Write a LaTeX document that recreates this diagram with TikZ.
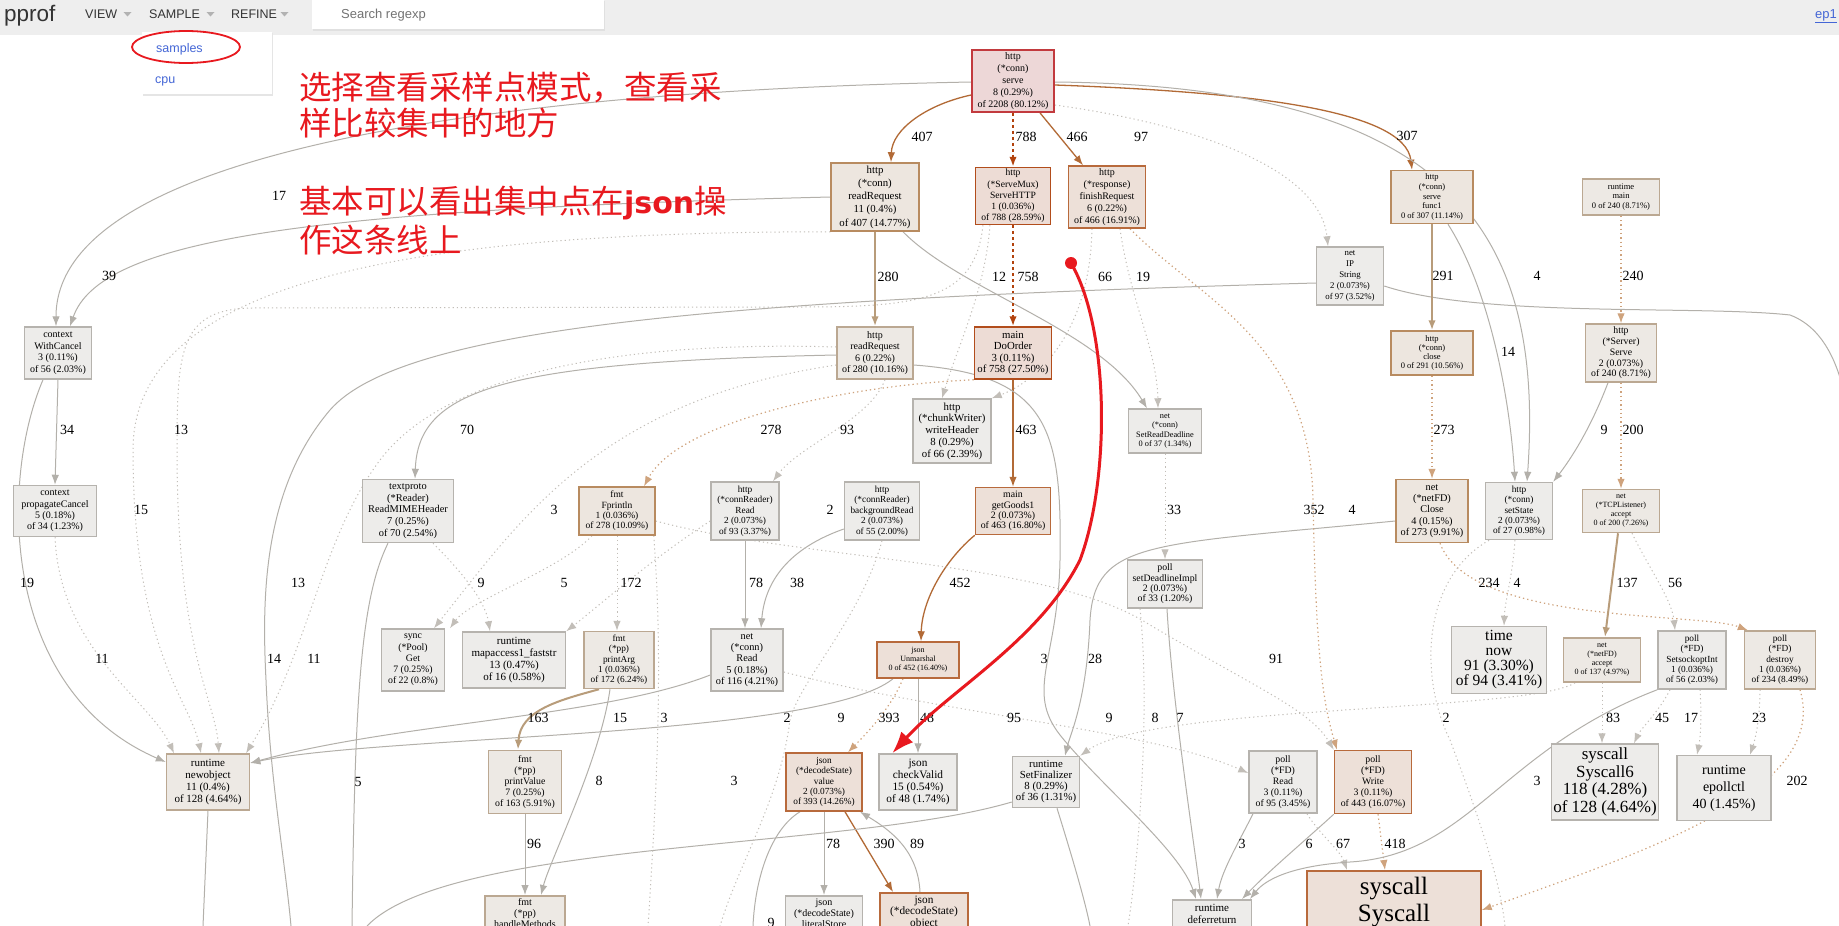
\documentclass[tikz,border=0pt]{standalone}
\usepackage{fontspec}
\setmainfont{Liberation Serif}
\newfontfamily\cjk{Noto Sans CJK SC}
\newfontfamily\uifont{Liberation Sans}
\newfontfamily\jsonfont{DejaVu Sans}
\usetikzlibrary{arrows.meta}
\pgfdeclarelayer{back}
\pgfdeclarelayer{edges}
\pgfsetlayers{back,edges,main}
\newcommand\fz[2]{\fontsize{#1}{#2}\selectfont}
\definecolor{nRedF}{HTML}{EDD7D7}\definecolor{nRedD}{HTML}{C23A3E}
\definecolor{nHotF}{HTML}{EDDCD5}\definecolor{nHotD}{HTML}{B24D1C}
\definecolor{nOrF}{HTML}{EDE0D8}\definecolor{nOrD}{HTML}{B86A3C}
\definecolor{nWaF}{HTML}{EDE6DF}\definecolor{nWaD}{HTML}{B88B60}
\definecolor{nTaF}{HTML}{EDE9E4}\definecolor{nTaD}{HTML}{BBA892}
\definecolor{nGrF}{HTML}{EDECEA}\definecolor{nGrD}{HTML}{B6B3AE}
\definecolor{eBr}{HTML}{B26A36}\definecolor{eHot}{HTML}{B2420D}
\definecolor{eTan}{HTML}{B89C7A}\definecolor{eGr}{HTML}{B3B0AA}
\definecolor{eGd}{HTML}{C2BEB8}\definecolor{eTd}{HTML}{CFA37D}
\definecolor{redA}{HTML}{E8191F}\definecolor{barF}{HTML}{EEEEEE}
\definecolor{uiT}{HTML}{333333}\definecolor{uiB}{HTML}{4466D6}
\tikzset{
 nd/.style={draw, rectangle, align=center, inner sep=0pt, line width=1.5pt},
 nred/.style={nd, fill=nRedF, draw=nRedD, line width=1.8pt},
 nhot/.style={nd, fill=nHotF, draw=nHotD},
 nor/.style={nd, fill=nOrF, draw=nOrD},
 nwa/.style={nd, fill=nWaF, draw=nWaD},
 nta/.style={nd, fill=nTaF, draw=nTaD},
 ngr/.style={nd, fill=nGrF, draw=nGrD},
 sz/.style 2 args={minimum width=#1, minimum height=#2},
 eb/.style={draw=eBr, line width=1.3pt},
 eh/.style={draw=eHot, line width=2.6pt, dash pattern=on 2.6pt off 3.4pt},
 et/.style={draw=eTan, line width=2pt},
 eg/.style={draw=eGr, line width=1pt},
 egd/.style={draw=eGd, line width=1pt, dash pattern=on 1.2pt off 3pt},
 etd/.style={draw=eTd, line width=1.2pt, dash pattern=on 1.3pt off 3pt},
 lbl/.style={font=\fz{14}{14}, inner sep=0pt},
 ui/.style={font=\uifont\fz{12.5}{14}, text=uiT, inner sep=0pt, anchor=base west},
 redtxt/.style={font=\cjk\fz{32.5}{36}, text=redA, inner sep=0pt, anchor=west},
}
\begin{document}
\begin{tikzpicture}[x=1pt,y=-1pt,>={Latex[length=10pt,width=7.5pt]}]
\useasboundingbox (0,0) rectangle (1839,926);
\begin{pgfonlayer}{back}
\fill[white] (0,0) rectangle (1839,926);
\end{pgfonlayer}

% ---------- nodes ----------
\node[nred, sz={82}{62}, font=\fz{10}{12.2}] (serve) at (1013,81) {http\\(*conn)\\serve\\8 (0.29\%)\\of 2208 (80.12\%)};
\node[nwa, sz={88}{68}, font=\fz{10.8}{13.2}] (rrc) at (875,197) {http\\(*conn)\\readRequest\\11 (0.4\%)\\of 407 (14.77\%)};
\node[nhot, sz={75}{57}, font=\fz{9.6}{11.2}] (shttp) at (1013,196) {http\\(*ServeMux)\\ServeHTTP\\1 (0.036\%)\\of 788 (28.59\%)};
\node[nor, sz={77}{62}, font=\fz{10}{12}] (fin) at (1107,197) {http\\(*response)\\finishRequest\\6 (0.22\%)\\of 466 (16.91\%)};
\node[nwa, sz={82}{53}, font=\fz{8.5}{9.8}] (func1) at (1432,197) {http\\(*conn)\\serve\\func1\\0 of 307 (11.14\%)};
\node[nta, sz={77}{36}, font=\fz{8.5}{9.8}] (rmain) at (1621,197) {runtime\\main\\0 of 240 (8.71\%)};
\node[ngr, sz={67}{58}, font=\fz{8.8}{10.8}] (ip) at (1350,276) {net\\IP\\String\\2 (0.073\%)\\of 97 (3.52\%)};
\node[ngr, sz={67}{52}, font=\fz{10}{11.5}] (wc) at (58,353) {context\\WithCancel\\3 (0.11\%)\\of 56 (2.03\%)};
\node[nta, sz={76}{52}, font=\fz{10}{11.5}] (rrh) at (875,353) {http\\readRequest\\6 (0.22\%)\\of 280 (10.16\%)};
\node[nhot, sz={77}{52}, font=\fz{10.8}{11.5}] (doorder) at (1013,353) {main\\DoOrder\\3 (0.11\%)\\of 758 (27.50\%)};
\node[nwa, sz={82}{44}, font=\fz{8.5}{9.2}] (close) at (1432,353) {http\\(*conn)\\close\\0 of 291 (10.56\%)};
\node[nta, sz={71}{58}, font=\fz{9.8}{10.8}] (serveS) at (1621,353) {http\\(*Server)\\Serve\\2 (0.073\%)\\of 240 (8.71\%)};
\node[ngr, sz={78}{64}, font=\fz{10.8}{11.8}] (cw) at (952,431) {http\\(*chunkWriter)\\writeHeader\\8 (0.29\%)\\of 66 (2.39\%)};
\node[ngr, sz={73}{44}, font=\fz{8.3}{9.3}] (srd) at (1165,431) {net\\(*conn)\\SetReadDeadline\\0 of 37 (1.34\%)};
\node[ngr, sz={83}{51}, font=\fz{10}{11.2}] (pc) at (55,511) {context\\propagateCancel\\5 (0.18\%)\\of 34 (1.23\%)};
\node[ngr, sz={91}{63}, font=\fz{10.4}{11.6}] (tp) at (408,511) {textproto\\(*Reader)\\ReadMIMEHeader\\7 (0.25\%)\\of 70 (2.54\%)};
\node[nwa, sz={76}{48}, font=\fz{9.5}{10.3}] (fpl) at (617,511) {fmt\\Fprintln\\1 (0.036\%)\\of 278 (10.09\%)};
\node[ngr, sz={68}{58}, font=\fz{9.3}{10.5}] (crr) at (745,511) {http\\(*connReader)\\Read\\2 (0.073\%)\\of 93 (3.37\%)};
\node[ngr, sz={75}{58}, font=\fz{9.3}{10.5}] (bgr) at (882,511) {http\\(*connReader)\\backgroundRead\\2 (0.073\%)\\of 55 (2.00\%)};
\node[nor, sz={75}{47}, font=\fz{9.8}{10.3}] (gg) at (1013,511) {main\\getGoods1\\2 (0.073\%)\\of 463 (16.80\%)};
\node[nwa, sz={72}{63}, font=\fz{10.3}{11.3}] (nfc) at (1432,511) {net\\(*netFD)\\Close\\4 (0.15\%)\\of 273 (9.91\%)};
\node[ngr, sz={67}{57}, font=\fz{9.3}{10.3}] (ss) at (1519,511) {http\\(*conn)\\setState\\2 (0.073\%)\\of 27 (0.98\%)};
\node[nta, sz={77}{43}, font=\fz{8}{9}] (tcpl) at (1621,511) {net\\(*TCPListener)\\accept\\0 of 200 (7.26\%)};
\node[ngr, sz={75}{48}, font=\fz{9.8}{10.3}] (sdi) at (1165,584) {poll\\setDeadlineImpl\\2 (0.073\%)\\of 33 (1.20\%)};
\node[ngr, sz={63}{62}, font=\fz{9.8}{11.2}] (spg) at (413,660) {sync\\(*Pool)\\Get\\7 (0.25\%)\\of 22 (0.8\%)};
\node[ngr, sz={103}{56}, font=\fz{11}{12}] (mac) at (514,660) {runtime\\mapaccess1\_faststr\\13 (0.47\%)\\of 16 (0.58\%)};
\node[nta, sz={70}{57}, font=\fz{9.3}{10.3}] (pa) at (619,660) {fmt\\(*pp)\\printArg\\1 (0.036\%)\\of 172 (6.24\%)};
\node[ngr, sz={72}{62}, font=\fz{10.3}{11.3}] (ncr) at (747,660) {net\\(*conn)\\Read\\5 (0.18\%)\\of 116 (4.21\%)};
\node[nor, sz={82}{36}, font=\fz{8}{9}] (unm) at (918,660) {json\\Unmarshal\\0 of 452 (16.40\%)};
\node[ngr, sz={95}{67}, font=\fz{15.5}{15}] (tnow) at (1499,660) {time\\now\\91 (3.30\%)\\of 94 (3.41\%)};
\node[nta, sz={77}{44}, font=\fz{8}{9}] (nfa) at (1602,660) {net\\(*netFD)\\accept\\0 of 137 (4.97\%)};
\node[ngr, sz={68}{58}, font=\fz{9.3}{10.3}] (sso) at (1692,660) {poll\\(*FD)\\SetsockoptInt\\1 (0.036\%)\\of 56 (2.03\%)};
\node[nta, sz={71}{58}, font=\fz{9.3}{10.3}] (dst) at (1780,660) {poll\\(*FD)\\destroy\\1 (0.036\%)\\of 234 (8.49\%)};
\node[nta, sz={83}{56}, font=\fz{11}{12}] (nobj) at (208,782) {runtime\\newobject\\11 (0.4\%)\\of 128 (4.64\%)};
\node[nta, sz={73}{63}, font=\fz{9.8}{11}] (pv) at (525,782) {fmt\\(*pp)\\printValue\\7 (0.25\%)\\of 163 (5.91\%)};
\node[nor, sz={76}{58}, font=\fz{9.3}{10.3}] (val) at (824,782) {json\\(*decodeState)\\value\\2 (0.073\%)\\of 393 (14.26\%)};
\node[ngr, sz={78}{56}, font=\fz{11.3}{12}] (cv) at (918,782) {json\\checkValid\\15 (0.54\%)\\of 48 (1.74\%)};
\node[ngr, sz={67}{51}, font=\fz{10.8}{11}] (sf) at (1046,782) {runtime\\SetFinalizer\\8 (0.29\%)\\of 36 (1.31\%)};
\node[ngr, sz={68}{62}, font=\fz{9.8}{11}] (pr) at (1283,782) {poll\\(*FD)\\Read\\3 (0.11\%)\\of 95 (3.45\%)};
\node[nor, sz={77}{63}, font=\fz{9.8}{11}] (pw) at (1373,782) {poll\\(*FD)\\Write\\3 (0.11\%)\\of 443 (16.07\%)};
\node[ngr, sz={107}{76}, font=\fz{17}{17.5}] (s6) at (1605,782) {syscall\\Syscall6\\118 (4.28\%)\\of 128 (4.64\%)};
\node[ngr, sz={94}{65}, font=\fz{14}{17}] (epc) at (1724,788) {runtime\\epollctl\\40 (1.45\%)};
\node[nta, anchor=north, minimum width=80, inner ysep=3pt, font=\fz{10}{11}] (hm) at (525,895) {fmt\\(*pp)\\handleMethods\\\rule{0pt}{30pt}};
\node[ngr, anchor=north, minimum width=77, inner ysep=3pt, font=\fz{10}{11}] (ls) at (824,895) {json\\(*decodeState)\\literalStore\\\rule{0pt}{30pt}};
\node[nor, anchor=north, minimum width=88, inner ysep=3pt, font=\fz{11.3}{11.5}] (obj) at (924,892) {json\\(*decodeState)\\object\\\rule{0pt}{30pt}};
\node[ngr, anchor=north, minimum width=79, inner ysep=4pt, font=\fz{11}{12.5}] (dfr) at (1212,899) {runtime\\deferreturn\\\rule{0pt}{30pt}};
\node[nor, anchor=north, minimum width=174, inner ysep=6pt, font=\fz{25}{27}] (sys) at (1394,870) {syscall\\Syscall\\\rule{0pt}{40pt}};

% ---------- edges ----------
\begin{pgfonlayer}{edges}
\coordinate (c9) at (753,926);
\coordinate (c5) at (352,926);
\coordinate (c14) at (291,926);
\coordinate (cN) at (203,926);
\coordinate (c2) at (1505,926);
\coordinate (cSF) at (367,926);
\coordinate (cSF2) at (1090,926);
\coordinate (c8) at (1128,926);
\coordinate (c3a) at (720,926);
\coordinate (c3b) at (648,926);
\coordinate (cR) at (1850,430);

\draw[eb,->] ([yshift=-14pt]serve.west) .. controls (925,105) and (892,130) .. ([xshift=16pt]rrc.north);
\draw[eh,->] (serve.south) -- (shttp.north);
\draw[eb,->] ([xshift=27pt]serve.south) -- ([xshift=-24pt]fin.north);
\draw[egd,->] ([yshift=-24pt]serve.east) .. controls (1200,125) and (1320,170) .. ([xshift=-22pt]ip.north);
\draw[eb,->] ([yshift=-4pt]serve.east) .. controls (1250,92) and (1405,110) .. ([xshift=-20pt]func1.north);
\draw[eg,->] ([yshift=-1pt]serve.east) .. controls (1450,86) and (1545,230) .. ([xshift=8pt]ss.north);
\draw[eg,->] ([yshift=-1pt]serve.west) .. controls (450,92) and (56,160) .. ([xshift=-2pt]wc.north);
\draw[eg,->] (rrc.west) .. controls (300,210) and (100,240) .. ([xshift=12pt]wc.north);
\draw[et,->] (rrc.south) -- (rrh.north);
\draw[eg,->] ([xshift=28pt]rrc.south) .. controls (960,290) and (1100,330) .. ([xshift=-18pt]srd.north);
\draw[egd,->] ([xshift=13pt]fin.south) .. controls (1130,300) and (1157,350) .. ([xshift=-7pt]srd.north);
\draw[egd,->] ([xshift=-15pt]fin.south) .. controls (1090,330) and (1040,380) .. (cw.north east);
\draw[egd,->] ([xshift=-23pt]shttp.south) .. controls (985,290) and (960,340) .. ([xshift=-10pt]cw.north);
\draw[eh,->] (shttp.south) -- (doorder.north);
\draw[eb,->] (doorder.south) -- (gg.north);
\draw[etd,->] (doorder.south west) .. controls (850,385) and (680,420) .. ([xshift=27pt]fpl.north);
\draw[eg,->] ([yshift=-2pt]rrh.west) .. controls (500,362) and (418,390) .. ([xshift=7pt]tp.north);
\draw[egd,->] ([xshift=10pt]rrh.south) .. controls (870,420) and (800,445) .. ([xshift=28pt]crr.north);
\draw[eg,->] (crr.south) -- ([xshift=-2pt]ncr.north);
\draw[eg,->] ([yshift=-18pt]bgr.west) .. controls (790,548) and (765,580) .. ([xshift=14pt]ncr.north);
\draw[eb,->] (gg.south west) .. controls (945,560) and (922,600) .. ([xshift=3pt]unm.north);
\draw[etd,->] ([xshift=-15pt]unm.south) .. controls (890,710) and (865,735) .. ([xshift=24pt]val.north);
\draw[eg,->] (unm.south) -- (cv.north);
\draw[eg,->] ([xshift=-25pt]unm.south) .. controls (820,738) and (380,735) .. ([yshift=19pt]nobj.east);
\draw[eg,->] ([yshift=-15pt]ncr.west) .. controls (600,718) and (400,722) .. ([yshift=19pt]nobj.east);
\draw[egd,->] ([yshift=-12pt]ncr.east) .. controls (950,715) and (1150,730) .. ([yshift=9pt]pr.west);
\draw[eg,->] (val.south) -- (ls.north);
\draw[eb,->] ([xshift=21pt]val.south) -- ([xshift=-31pt]obj.north);
\draw[eg,->] ([xshift=-4pt]obj.north) .. controls (918,850) and (890,830) .. ([xshift=36pt]val.south);
\draw[eg] ([xshift=-24pt]val.south) .. controls (770,830) and (755,880) .. (c9);
\draw[egd,->] (fpl.south) -- ([xshift=-2pt]pa.north);
\draw[egd,->] ([xshift=-25pt]fpl.south) .. controls (560,570) and (470,600) .. ([xshift=37pt]spg.north);
\draw[egd,->] ([xshift=25pt]tp.south) .. controls (460,570) and (485,600) .. ([xshift=-24pt]mac.north);
\draw[egd,->] ([yshift=-12pt]rrh.west) .. controls (600,400) and (520,520) .. ([xshift=21pt]spg.north);
\draw[egd,->] ([yshift=-10pt]crr.west) .. controls (650,560) and (600,605) .. (mac.north east);
\draw[et,->] ([xshift=-20pt]pa.south) .. controls (560,700) and (520,710) .. ([xshift=-7pt]pv.north);
\draw[eg,->] ([xshift=-9pt]pa.south) .. controls (600,760) and (550,860) .. ([xshift=16pt]hm.north);
\draw[eg,->] (pv.south) -- (hm.north);
\draw[eg,->] (wc.south) -- (pc.north);
\draw[eg,->] ([xshift=-15pt]wc.south) .. controls (0,480) and (0,690) .. ([yshift=20pt]nobj.west);
\draw[egd,->] (pc.south) .. controls (60,650) and (150,700) .. ([xshift=-34pt]nobj.north);
\draw[egd,->] (rrc.south west) .. controls (450,232) and (133,270) .. (133,450) .. controls (133,650) and (190,700) .. ([xshift=-7pt]nobj.north);
\draw[egd,->] ([xshift=-30pt]shttp.south) .. controls (975,300) and (920,307) .. (800,307) -- (250,308) .. controls (180,310) and (177,350) .. (177,450) .. controls (177,650) and (215,700) .. ([xshift=11pt]nobj.north);
\draw[egd,->] ([yshift=6pt]rrh.west) .. controls (600,340) and (440,380) .. (380,460) .. controls (320,540) and (310,650) .. ([xshift=38pt]nobj.north);
\draw[eg] ([xshift=-20pt]tp.south) .. controls (360,600) and (355,700) .. (c5);
\draw[eg] ([yshift=-7pt]ip.west) .. controls (700,300) and (400,330) .. (330,410) .. controls (262,490) and (262,600) .. (266,680) .. controls (270,780) and (285,860) .. (c14);
\draw[eg] ([yshift=-10pt]ip.east) .. controls (1480,318) and (1700,305) .. (1790,315) .. controls (1830,330) and (1845,380) .. (cR);
\draw[eg] (nobj.south) -- (cN);
\draw[et,->] (func1.south) -- (close.north);
\draw[eg,->] ([xshift=16pt]func1.south) .. controls (1490,290) and (1510,400) .. ([xshift=-4pt]ss.north);
\draw[etd,->] (rmain.south) -- (serveS.north);
\draw[eg,->] ([xshift=-13pt]serveS.south) .. controls (1590,430) and (1570,460) .. (ss.north east);
\draw[etd,->] (serveS.south) -- (tcpl.north);
\draw[etd,->] (close.south) -- (nfc.north);
\draw[etd,->] ([xshift=8pt]nfc.south) .. controls (1470,625) and (1700,612) .. ([xshift=4pt]dst.north west);
\draw[egd,->] ([xshift=-4pt]ss.south) .. controls (1512,580) and (1505,600) .. ([xshift=5pt]tnow.north);
\draw[egd] ([xshift=-30pt]ss.south) .. controls (1420,580) and (1420,680) .. (1450,740) .. controls (1480,820) and (1500,880) .. (c2);
\draw[et,->] ([xshift=-3pt]tcpl.south) -- ([xshift=3pt]nfa.north);
\draw[egd,->] ([xshift=11pt]tcpl.south) .. controls (1650,570) and (1672,600) .. ([xshift=-17pt]sso.north);
\draw[egd,->] (nfa.south) -- ([xshift=-3pt]s6.north);
\draw[egd,->] ([xshift=-22pt]sso.south) .. controls (1660,710) and (1640,730) .. ([xshift=29pt]s6.north);
\draw[egd,->] ([xshift=8pt]sso.south) .. controls (1702,720) and (1700,740) .. ([xshift=-27pt]epc.north);
\draw[egd,->] ([xshift=-20pt]dst.south) .. controls (1760,720) and (1755,740) .. ([xshift=26pt]epc.north);
\draw[etd,->] ([xshift=20pt]dst.south) .. controls (1830,790) and (1650,850) .. ([yshift=-40pt]sys.north east);
\draw[etd,->] ([xshift=5pt]pw.south) -- ([xshift=-9pt]sys.north);
\draw[egd,->] ([xshift=24pt]pr.south) .. controls (1320,835) and (1340,850) .. ([xshift=-47pt]sys.north);
\draw[eg,->] ([xshift=-30pt]pr.south) .. controls (1240,840) and (1222,870) .. ([xshift=5pt]dfr.north);
\draw[eg,->] (pw.south west) .. controls (1300,845) and (1270,870) .. ([xshift=30pt]dfr.north);
\draw[eg,->] (sso.south west) .. controls (1500,750) and (1470,855) .. (1350,862) .. controls (1290,866) and (1265,880) .. ([xshift=38pt]dfr.north);
\draw[eg,->] ([xshift=2pt]sdi.south) .. controls (1172,700) and (1195,850) .. ([xshift=-11pt]dfr.north);
\draw[eg,->] ([yshift=-12pt]rrh.east) .. controls (1050,375) and (1062,430) .. (1060,560) .. controls (1058,660) and (1025,690) .. (1060,735) .. controls (1100,785) and (1180,850) .. ([xshift=-16pt]dfr.north);
\draw[egd,->] (srd.south) -- (sdi.north);
\draw[eg,->] ([yshift=-10pt]nfc.west) .. controls (1150,545) and (1095,540) .. (1090,620) .. controls (1087,700) and (1070,735) .. ([xshift=19pt]sf.north);
\draw[egd,->] ([xshift=-27pt]nfa.south) .. controls (1530,712) and (1150,705) .. (sf.north east);
\draw[eg] ([yshift=-20pt]sf.west) .. controls (850,850) and (450,840) .. (cSF);
\draw[eg] ([xshift=11pt]sf.south) .. controls (1070,850) and (1085,900) .. (cSF2);
\draw[etd,->] ([xshift=23pt]fin.south) .. controls (1200,300) and (1310,340) .. (1313,500) .. controls (1316,650) and (1322,700) .. ([xshift=-36pt]pw.north);
\draw[egd,->] ([yshift=-10pt]fpl.east) .. controls (800,560) and (1050,560) .. (1150,625) .. controls (1260,690) and (1310,710) .. (pw.north west);
\draw[egd] ([xshift=-25pt]sdi.south) .. controls (1150,700) and (1140,850) .. (c8);
\draw[egd] (bgr.south) .. controls (860,620) and (800,680) .. (790,720) .. controls (780,800) and (740,860) .. (c3a);
\draw[egd] ([xshift=-2pt]fpl.south east) .. controls (660,620) and (662,720) .. (c3b);
\end{pgfonlayer}

% ---------- edge labels ----------
\foreach \px/\py/\tx [count=\i] in {922/137/407, 1026/137/788, 1077/137/466, 1141/137/97, 1407/136/307, 279/196/17, 109/276/39, 888/277/280, 999/277/12, 1028/277/758, 1105/277/66, 1143/277/19, 1443/276/291, 1537/276/4, 1633/276/240, 1508/352/14,
 67/430/34, 181/430/13, 467/430/70, 771/430/278, 847/430/93, 1026/430/463, 1444/430/273, 1604/430/9, 1633/430/200,
 141/510/15, 554/510/3, 830/510/2, 1174/510/33, 1314/510/352, 1352/510/4,
 27/583/19, 298/583/13, 481/583/9, 564/583/5, 631/583/172, 756/583/78, 797/583/38, 960/583/452, 1489/583/234, 1517/583/4, 1627/583/137, 1675/583/56,
 102/659/11, 274/659/14, 314/659/11, 1044/659/3, 1095/659/28, 1276/659/91,
 538/718/163, 620/718/15, 664/718/3, 787/718/2, 841/718/9, 889/718/393, 927/718/48, 1014/718/95, 1109/718/9, 1155/718/8, 1180/718/7, 1446/718/2, 1613/718/83, 1662/718/45, 1691/718/17, 1759/718/23,
 358/782/5, 599/781/8, 734/781/3, 1537/781/3, 1797/781/202,
 534/844/96, 833/844/78, 884/844/390, 917/844/89, 1242/844/3, 1309/844/6, 1343/844/67, 1395/844/418, 771/923/9}
 {\node[lbl] (lb\i) at (\px,\py) {\tx};}

% ---------- UI bar ----------
\fill[barF] (0,0) rectangle (1839,35);
\fill[black!12] (313,1) rectangle (605,30.5);
\fill[white] (312,0) rectangle (604,29);
\fill[black!10] (143,33) rectangle (273,95.5);
\fill[white] (142,32) rectangle (272,94);
\node[ui, font=\uifont\fz{22.5}{24}] (pp) at (4,21) {pprof};
\node[ui] (mview) at (85,18.5) {VIEW};
\node[ui] (msample) at (149,18.5) {SAMPLE};
\node[ui] (mrefine) at (231,18.5) {REFINE};
\fill[black!30] (123.5,12) -- (131.5,12) -- (127.5,16.5) -- cycle;
\fill[black!30] (206.5,12) -- (214.5,12) -- (210.5,16.5) -- cycle;
\fill[black!30] (280.5,12) -- (288.5,12) -- (284.5,16.5) -- cycle;
\node[ui, text=black!55, font=\uifont\fz{13}{14}] (search) at (341,19) {Search regexp};
\node[ui, text=uiB, font=\uifont\fz{13}{14}] (ep) at (1815,18.5) {\underline{ep1}};
\node[ui, text=uiB] (msamples) at (156,52) {samples};
\node[ui, text=uiB] (mcpu) at (155,83) {cpu};
\draw[redA, line width=1.8pt] (186,47) ellipse [x radius=54, y radius=16];

% ---------- red annotations ----------
\node[redtxt] (t1) at (299,88) {选择查看采样点模式，查看采};
\node[redtxt] (t2) at (299,123) {样比较集中的地方};
\node[redtxt] (t3) at (299,203) {基本可以看出集中点在{\jsonfont\bfseries\fz{30}{36}json}操};
\node[redtxt] (t4) at (299,240) {作这条线上};
\node[circle, fill=redA, inner sep=0pt, minimum size=12] (rdot) at (1071,263) {};
\draw[redA, line width=3pt, -{Latex[length=22pt,width=16pt]}] (rdot.center) .. controls (1110,330) and (1110,480) .. (1080,560) .. controls (1040,640) and (950,690) .. ([xshift=14pt]cv.north west);
\end{tikzpicture}
\end{document}
